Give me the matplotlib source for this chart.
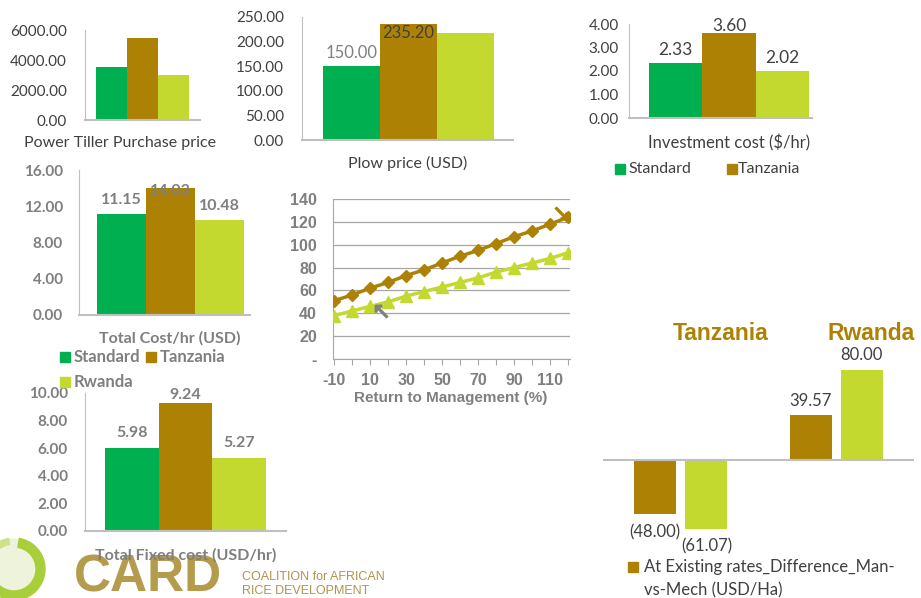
import numpy as np
import matplotlib
matplotlib.use("Agg")
import matplotlib.pyplot as plt
from matplotlib.patches import Rectangle, Wedge, Circle

W, H = 921, 598

# ---- data ----
series = ["Standard", "Tanzania", "Rwanda"]
tiller_price = [3530, 5460, 3000]
plow_price = [150.00, 235.20, 218.00]
invest_cost = [2.33, 3.60, 2.02]
total_cost = [11.15, 14.03, 10.48]
fixed_cost = [5.98, 9.24, 5.27]

rtm = [-10, 0, 10, 20, 30, 40, 50, 60, 70, 80, 90, 100, 110, 120]
rtm_tanzania = [51, 56, 62, 67, 73, 78, 84, 90, 95, 101, 107, 112, 118, 124]
rtm_rwanda = [38, 42, 46, 50, 55, 59, 63, 67, 71, 76, 80, 84, 88, 93]

groups = ["Tanzania", "Rwanda"]
diff_tanzania_col = [-48.00, 39.57]   # brown bars
diff_rwanda_col = [-61.07, 80.00]     # lime bars

GREEN = "#00B050"
BROWN = "#AD8204"
LIME = "#C3D930"
COLORS = [GREEN, BROWN, LIME]
AXC = "#BFBFBF"
DARK = "#404040"
GRAY = "#7F7F7F"

REG = "Lato"
ARIAL = "Liberation Sans"

fig = plt.figure(figsize=(W / 100, H / 100), dpi=100)


def px_axes(l, t, r, b):
    return fig.add_axes([l / W, 1 - b / H, (r - l) / W, (b - t) / H])


def ftext(x, y, s, **kw):
    kw.setdefault("ha", "center")
    kw.setdefault("va", "center")
    fig.text(x / W, 1 - y / H, s, **kw)


def bar_panel(box, vals, bar_left, bar_w, ymax, ystep, tick_pad, bold=False):
    l, t, r, b = box
    ax = px_axes(l, t, r, b)
    x = np.arange(len(vals))
    ax.bar(x, vals, width=1.0, color=COLORS[:len(vals)])
    ax.set_xlim(-0.5 - (bar_left - l) / bar_w, -0.5 + (r - bar_left) / bar_w)
    ax.set_ylim(0, ymax)
    ax.set_yticks(np.arange(0, ymax + ystep / 2, ystep))
    ax.set_yticklabels(["%.2f" % v for v in np.arange(0, ymax + ystep / 2, ystep)])
    ax.set_xticks([])
    for s in ["top", "right"]:
        ax.spines[s].set_visible(False)
    ax.spines["left"].set_color(AXC)
    ax.spines["bottom"].set_color(AXC)
    ax.spines["bottom"].set_linewidth(1.5)
    ax.tick_params(axis="y", length=0, pad=tick_pad / 1.389,
                   labelcolor=GRAY if bold else DARK, labelsize=11)
    for lab in ax.get_yticklabels():
        lab.set_fontfamily(REG)
        if bold:
            lab.set_fontweight("bold")
    ax.patch.set_alpha(0)
    return ax


def bar_labels(ax, vals, off, cap, **kw):
    # labels sit above the bar, but are pushed down when the plot top is hit
    for i, v in enumerate(vals):
        ax.text(i, min(v + off, cap), "%.2f" % v, ha="center", va="center", **kw)


# Panel 1: Power tiller purchase price
ax1 = bar_panel((85, 30, 200, 120), tiller_price, 96, 31, 6000, 2000, 18)
ftext(120, 143, "Power Tiller Purchase price", fontsize=11.5, color=DARK, family=REG)

# Panel 2: Plow price
ax2 = bar_panel((302, 17, 513, 140), plow_price, 323, 57, 250, 50, 18)
ax2.text(0, plow_price[0] + 27, "%.2f" % plow_price[0], ha="center", va="center",
         fontsize=12, color="#808080", family=REG)
ax2.text(1, min(plow_price[1] + 27, 217.5), "%.2f" % plow_price[1], ha="center",
         va="center", fontsize=12, color=DARK, family=REG)
ftext(408, 163, "Plow price (USD)", fontsize=11.5, color=DARK, family=REG)

# Panel 3: Investment cost
ax3 = bar_panel((629, 24, 812, 118), invest_cost, 649, 53.3, 4, 1, 10)
bar_labels(ax3, invest_cost, 0.55, 3.91, fontsize=12.5, color=DARK, family=REG)
ftext(729, 143, "Investment cost ($/hr)", fontsize=12, color=DARK, family=REG)
fig.patches.append(Rectangle((615 / W, 1 - 174 / H), 10 / W, 10 / H,
                             transform=fig.transFigure, color=GREEN))
ftext(628, 169, "Standard", ha="left", fontsize=11.5, color=DARK, family=REG)
fig.patches.append(Rectangle((727 / W, 1 - 174 / H), 10 / W, 10 / H,
                             transform=fig.transFigure, color=BROWN))
ftext(738, 169, "Tanzania", ha="left", fontsize=11.5, color=DARK, family=REG)

# Panel 4: Total cost/hr
ax4 = bar_panel((79, 170, 250, 315), total_cost, 97, 49, 16, 4, 16, bold=True)
bar_labels(ax4, total_cost, 1.55, 13.7, fontsize=11.5, color=GRAY, family=REG,
           fontweight="bold")
ftext(170, 338, "Total Cost/hr (USD)", fontsize=11.5, color=GRAY, family=REG,
      fontweight="bold")
for (x0, y0, lab, c) in [(60, 357, "Standard", GREEN), (146, 357, "Tanzania", BROWN),
                         (60, 382, "Rwanda", LIME)]:
    fig.patches.append(Rectangle((x0 / W, 1 - (y0 + 5) / H), 10 / W, 10 / H,
                                 transform=fig.transFigure, color=c))
    ftext(x0 + 14, y0, lab, ha="left", fontsize=12, color=GRAY, family=REG,
          fontweight="bold")

# Panel 5: Return to management line chart
ax5 = px_axes(333, 199, 570, 359)
xi = np.arange(len(rtm))
ax5.plot(xi, rtm_tanzania, color=BROWN, lw=2.5, marker="D", ms=6.5, zorder=3)
ax5.plot(xi, rtm_rwanda, color=LIME, lw=2.5, marker="^", ms=8, zorder=3)
ax5.set_xlim(-0.06, 13.11)
ax5.set_ylim(0, 140)
ax5.set_yticks(range(0, 141, 20))
ax5.set_yticklabels(["-"] + [str(v) for v in range(20, 141, 20)])
ax5.yaxis.grid(True, color="#A6A6A6", lw=0.9)
ax5.set_axisbelow(True)
ax5.set_xticks(xi)
ax5.set_xticklabels([str(v) if k % 2 == 0 else "" for k, v in enumerate(rtm)])
for s in ["top", "right"]:
    ax5.spines[s].set_visible(False)
ax5.spines["left"].set_color("#A6A6A6")
ax5.spines["bottom"].set_color("#A6A6A6")
ax5.tick_params(axis="y", length=0, pad=16 / 1.389, labelsize=11.5, labelcolor=GRAY)
ax5.tick_params(axis="x", length=4, color="#A6A6A6", pad=6, labelsize=11.5,
                labelcolor=GRAY)
for lab in ax5.get_xticklabels() + ax5.get_yticklabels():
    lab.set_fontfamily(ARIAL)
    lab.set_fontweight("bold")
ax5.patch.set_alpha(0)
ftext(451, 398, "Return to Management (%)", fontsize=11, color=GRAY, family=ARIAL,
      fontweight="bold")
# cursor marks
ax5.plot([2.6], [42], marker=r"$\nwarrow$", ms=9, color="#808080", zorder=4)
ax5.plot([12.6], [128], marker=r"$\searrow$", ms=9, color=BROWN, zorder=4)

# Panel 6: Total fixed cost
ax6 = bar_panel((85, 393, 286, 531), fixed_cost, 105, 53.7, 10, 2, 17, bold=True)
bar_labels(ax6, fixed_cost, 1.12, 9.86, fontsize=11.5, color=GRAY, family=REG,
           fontweight="bold")

# CARD logo (behind the fixed cost title)
logo_ax = fig.add_axes([0, 0, 1, 1], zorder=-1)
logo_ax.set_xlim(0, W)
logo_ax.set_ylim(H, 0)
logo_ax.axis("off")
logo_ax.add_patch(Circle((14, 569), 30, color="#EEF3DC"))
logo_ax.add_patch(Wedge((14, 569), 31, -80, 170, width=9, color="#A8CF3A"))
logo_ax.add_patch(Wedge((14, 569), 31, 190, 260, width=6, color="#CFE28A"))
logo_ax.text(148, 592, "CARD", ha="center", va="baseline", fontsize=37,
             family=ARIAL, fontweight="bold", color="#A88A2C", alpha=0.85)
logo_ax.text(242, 577, "COALITION for AFRICAN", ha="left", va="center",
             fontsize=9, family=ARIAL, color="#B0944A")
logo_ax.text(242, 591, "RICE DEVELOPMENT", ha="left", va="center",
             fontsize=9, family=ARIAL, color="#B0944A")

ftext(186, 555, "Total Fixed cost (USD/hr)", fontsize=11.5, color=GRAY, family=REG,
      fontweight="bold")

# Panel 7: difference manual vs mechanised
ax7 = px_axes(603, 460 - 90 * 1.125, 914, 460 + 72 * 1.125)
gx = np.arange(len(groups))
bw = 0.27
ax7.bar(gx - 0.165, diff_tanzania_col, width=bw, color=BROWN)
ax7.bar(gx + 0.165, diff_rwanda_col, width=bw, color=LIME)
ax7.set_xlim(-0.5, 1.5)
ax7.set_ylim(-72, 90)
ax7.axhline(0, color=AXC, lw=1.5)
ax7.axis("off")


def fmt(v):
    return "(%.2f)" % abs(v) if v < 0 else "%.2f" % v


for i in range(len(groups)):
    for off, vals in [(-0.165, diff_tanzania_col), (0.165, diff_rwanda_col)]:
        v = vals[i]
        ax7.text(gx[i] + off, v - 16 if v < 0 else v + 13, fmt(v), ha="center",
                 va="center", fontsize=12, color=DARK, family=REG)

ftext(721, 334, "Tanzania", fontsize=16.5, fontweight="bold", color=BROWN, family=ARIAL)
ftext(871, 334, "Rwanda", fontsize=16.5, fontweight="bold", color=BROWN, family=ARIAL)
fig.patches.append(Rectangle((628 / W, 1 - 572 / H), 10 / W, 10 / H,
                             transform=fig.transFigure, color=BROWN))
ftext(644, 567, "At Existing rates_Difference_Man-", ha="left", fontsize=12,
      color=DARK, family=REG)
ftext(644, 590, "vs-Mech (USD/Ha)", ha="left", fontsize=12, color=DARK, family=REG)

fig.savefig("out.png", dpi=100)
